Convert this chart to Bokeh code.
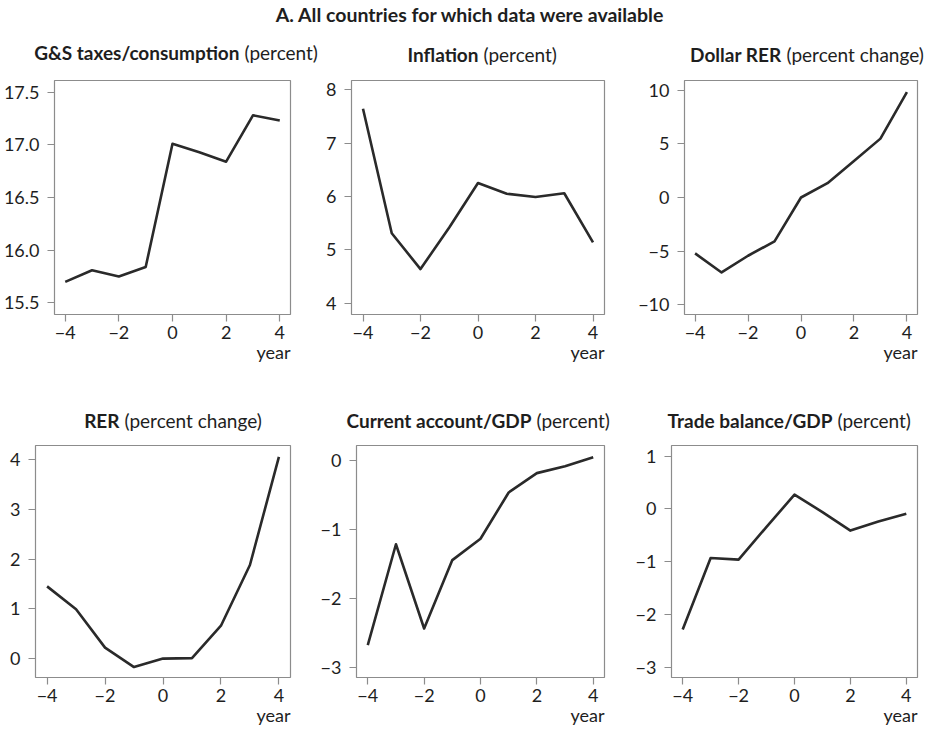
from bokeh.plotting import figure
from bokeh.models import Range1d, Label, FixedTicker, Title
from bokeh.layouts import column, row
from bokeh.embed import file_html
from bokeh.resources import INLINE

# ---------------- data ----------------
years = [-4, -3, -2, -1, 0, 1, 2, 3, 4]
gs_taxes = [15.70, 15.81, 15.75, 15.84, 17.01, 16.93, 16.84, 17.28, 17.23]
inflation = [7.64, 5.31, 4.64, 5.42, 6.25, 6.05, 5.99, 6.06, 5.14]
dollar_rer = [-5.22, -7.00, -5.44, -4.10, 0.00, 1.34, 3.40, 5.50, 9.85]
rer = [1.45, 0.99, 0.22, -0.17, 0.00, 0.01, 0.66, 1.88, 4.05]
current_account = [-2.67, -1.21, -2.43, -1.44, -1.13, -0.46, -0.18, -0.08, 0.05]
trade_balance = [-2.28, -0.93, -0.96, -0.34, 0.27, -0.06, -0.41, -0.24, -0.09]

x_ticks = [-4, -2, 0, 2, 4]
x_tick_labels = ["−4", "−2", "0", "2", "4"]

gs_ticks = [15.5, 16.0, 16.5, 17.0, 17.5]
gs_tick_labels = ["15.5", "16.0", "16.5", "17.0", "17.5"]
inf_ticks = [4, 5, 6, 7, 8]
inf_tick_labels = ["4", "5", "6", "7", "8"]
drer_ticks = [-10, -5, 0, 5, 10]
drer_tick_labels = ["−10", "−5", "0", "5", "10"]
rer_ticks = [0, 1, 2, 3, 4]
rer_tick_labels = ["0", "1", "2", "3", "4"]
ca_ticks = [-3, -2, -1, 0]
ca_tick_labels = ["−3", "−2", "−1", "0"]
tb_ticks = [-3, -2, -1, 0, 1]
tb_tick_labels = ["−3", "−2", "−1", "0", "1"]

main_title = "A. All countries for which data were available"
panel_bold = ["G&S taxes/consumption", "Inflation", "Dollar RER",
              "RER", "Current account/GDP", "Trade balance/GDP"]
panel_normal = ["(percent)", "(percent)", "(percent change)",
                "(percent change)", "(percent)", "(percent)"]
x_label = "year"

FONT = "Lato"
LINE = "#2a2a2a"
FRAME = "#8c8c8c"
TEXT = "#1e1e1e"
W = 925


def make_strip(height):
    s = figure(width=W, height=height, toolbar_location=None, output_backend="svg",
               x_range=Range1d(0, W), y_range=Range1d(0, height),
               x_axis_location=None, y_axis_location=None, min_border=0)
    s.outline_line_color = None
    s.grid.visible = False
    s.background_fill_color = "white"
    s.border_fill_color = "white"
    return s


def add_title(strip, bold, normal, xj, y):
    strip.add_layout(Label(x=xj, y=y, x_units="screen", y_units="screen",
                           text=bold, text_align="right", text_baseline="middle",
                           text_font=FONT, text_font_style="bold",
                           text_font_size="19px", text_color=TEXT))
    strip.add_layout(Label(x=xj + 5, y=y, x_units="screen", y_units="screen",
                           text=normal, text_align="left", text_baseline="middle",
                           text_font=FONT, text_font_size="19px", text_color=TEXT))


def make_panel(values, yr, yticks, ylabels, width, height, bl, br, bt, bb):
    p = figure(width=width, height=height, toolbar_location=None,
               output_backend="svg", x_range=Range1d(-4.4, 4.4),
               y_range=Range1d(*yr), min_border_left=bl, min_border_right=br,
               min_border_top=bt, min_border_bottom=bb)
    p.line(years, values, line_color=LINE, line_width=2.6, line_join="round")
    p.outline_line_color = FRAME
    p.outline_line_width = 1.2
    p.grid.visible = False
    p.background_fill_color = "white"
    p.border_fill_color = "white"
    p.xaxis.ticker = FixedTicker(ticks=x_ticks)
    p.xaxis.major_label_overrides = dict(zip(x_ticks, x_tick_labels))
    p.yaxis.ticker = FixedTicker(ticks=yticks)
    p.yaxis.major_label_overrides = dict(zip(yticks, ylabels))
    for ax in (p.xaxis, p.yaxis):
        ax.axis_line_color = None
        ax.major_tick_line_color = FRAME
        ax.major_tick_line_width = 1.2
        ax.major_tick_in = 0
        ax.major_tick_out = 7
        ax.minor_tick_line_color = None
        ax.major_label_text_font = FONT
        ax.major_label_text_font_size = "18px"
        ax.major_label_text_color = TEXT
    p.xaxis.major_label_standoff = 4
    p.yaxis.major_label_standoff = 8
    # "year" label, right-aligned under the x axis
    p.add_layout(Title(text=x_label, align="right", standoff=-5, offset=0,
                       text_font=FONT, text_font_size="18px",
                       text_font_style="normal", text_color=TEXT), "below")
    return p


# top strip: main title + row-1 panel titles
strip_a = make_strip(70)
strip_a.add_layout(Label(x=470, y=56, x_units="screen", y_units="screen",
                         text=main_title, text_align="center", text_baseline="middle",
                         text_font=FONT, text_font_style="bold",
                         text_font_size="19.5px", text_color=TEXT))
add_title(strip_a, panel_bold[0], panel_normal[0], 239, 18)
add_title(strip_a, panel_bold[1], panel_normal[1], 478, 16)
add_title(strip_a, panel_bold[2], panel_normal[2], 781, 16)

H1 = 300
p1 = make_panel(gs_taxes, (15.39, 17.61), gs_ticks, gs_tick_labels,
                317, H1, 53, 27, 5, 56)
p2 = make_panel(inflation, (3.79, 8.17), inf_ticks, inf_tick_labels,
                318, H1, 34, 31, 10, 56)
p3 = make_panel(dollar_rer, (-10.93, 10.93), drer_ticks, drer_tick_labels,
                290, H1, 46, 8, 10, 56)

# middle strip: row-2 panel titles
strip_b = make_strip(70)
add_title(strip_b, panel_bold[3], panel_normal[3], 119, 20)
add_title(strip_b, panel_bold[4], panel_normal[4], 531, 20)
add_title(strip_b, panel_bold[5], panel_normal[5], 832, 20)

H2 = 293
p4 = make_panel(rer, (-0.38, 4.28), rer_ticks, rer_tick_labels,
                317, H2, 35, 27, 5, 56)
p5 = make_panel(current_account, (-3.14, 0.22), ca_ticks, ca_tick_labels,
                308, H2, 39, 21, 5, 56)
p6 = make_panel(trade_balance, (-3.19, 1.2), tb_ticks, tb_tick_labels,
                300, H2, 46, 8, 5, 56)

layout = column(strip_a, row(p1, p2, p3), strip_b, row(p4, p5, p6),
                margin=(0, -8, -8, 0))
open("out.html", "w").write(file_html(layout, INLINE))
